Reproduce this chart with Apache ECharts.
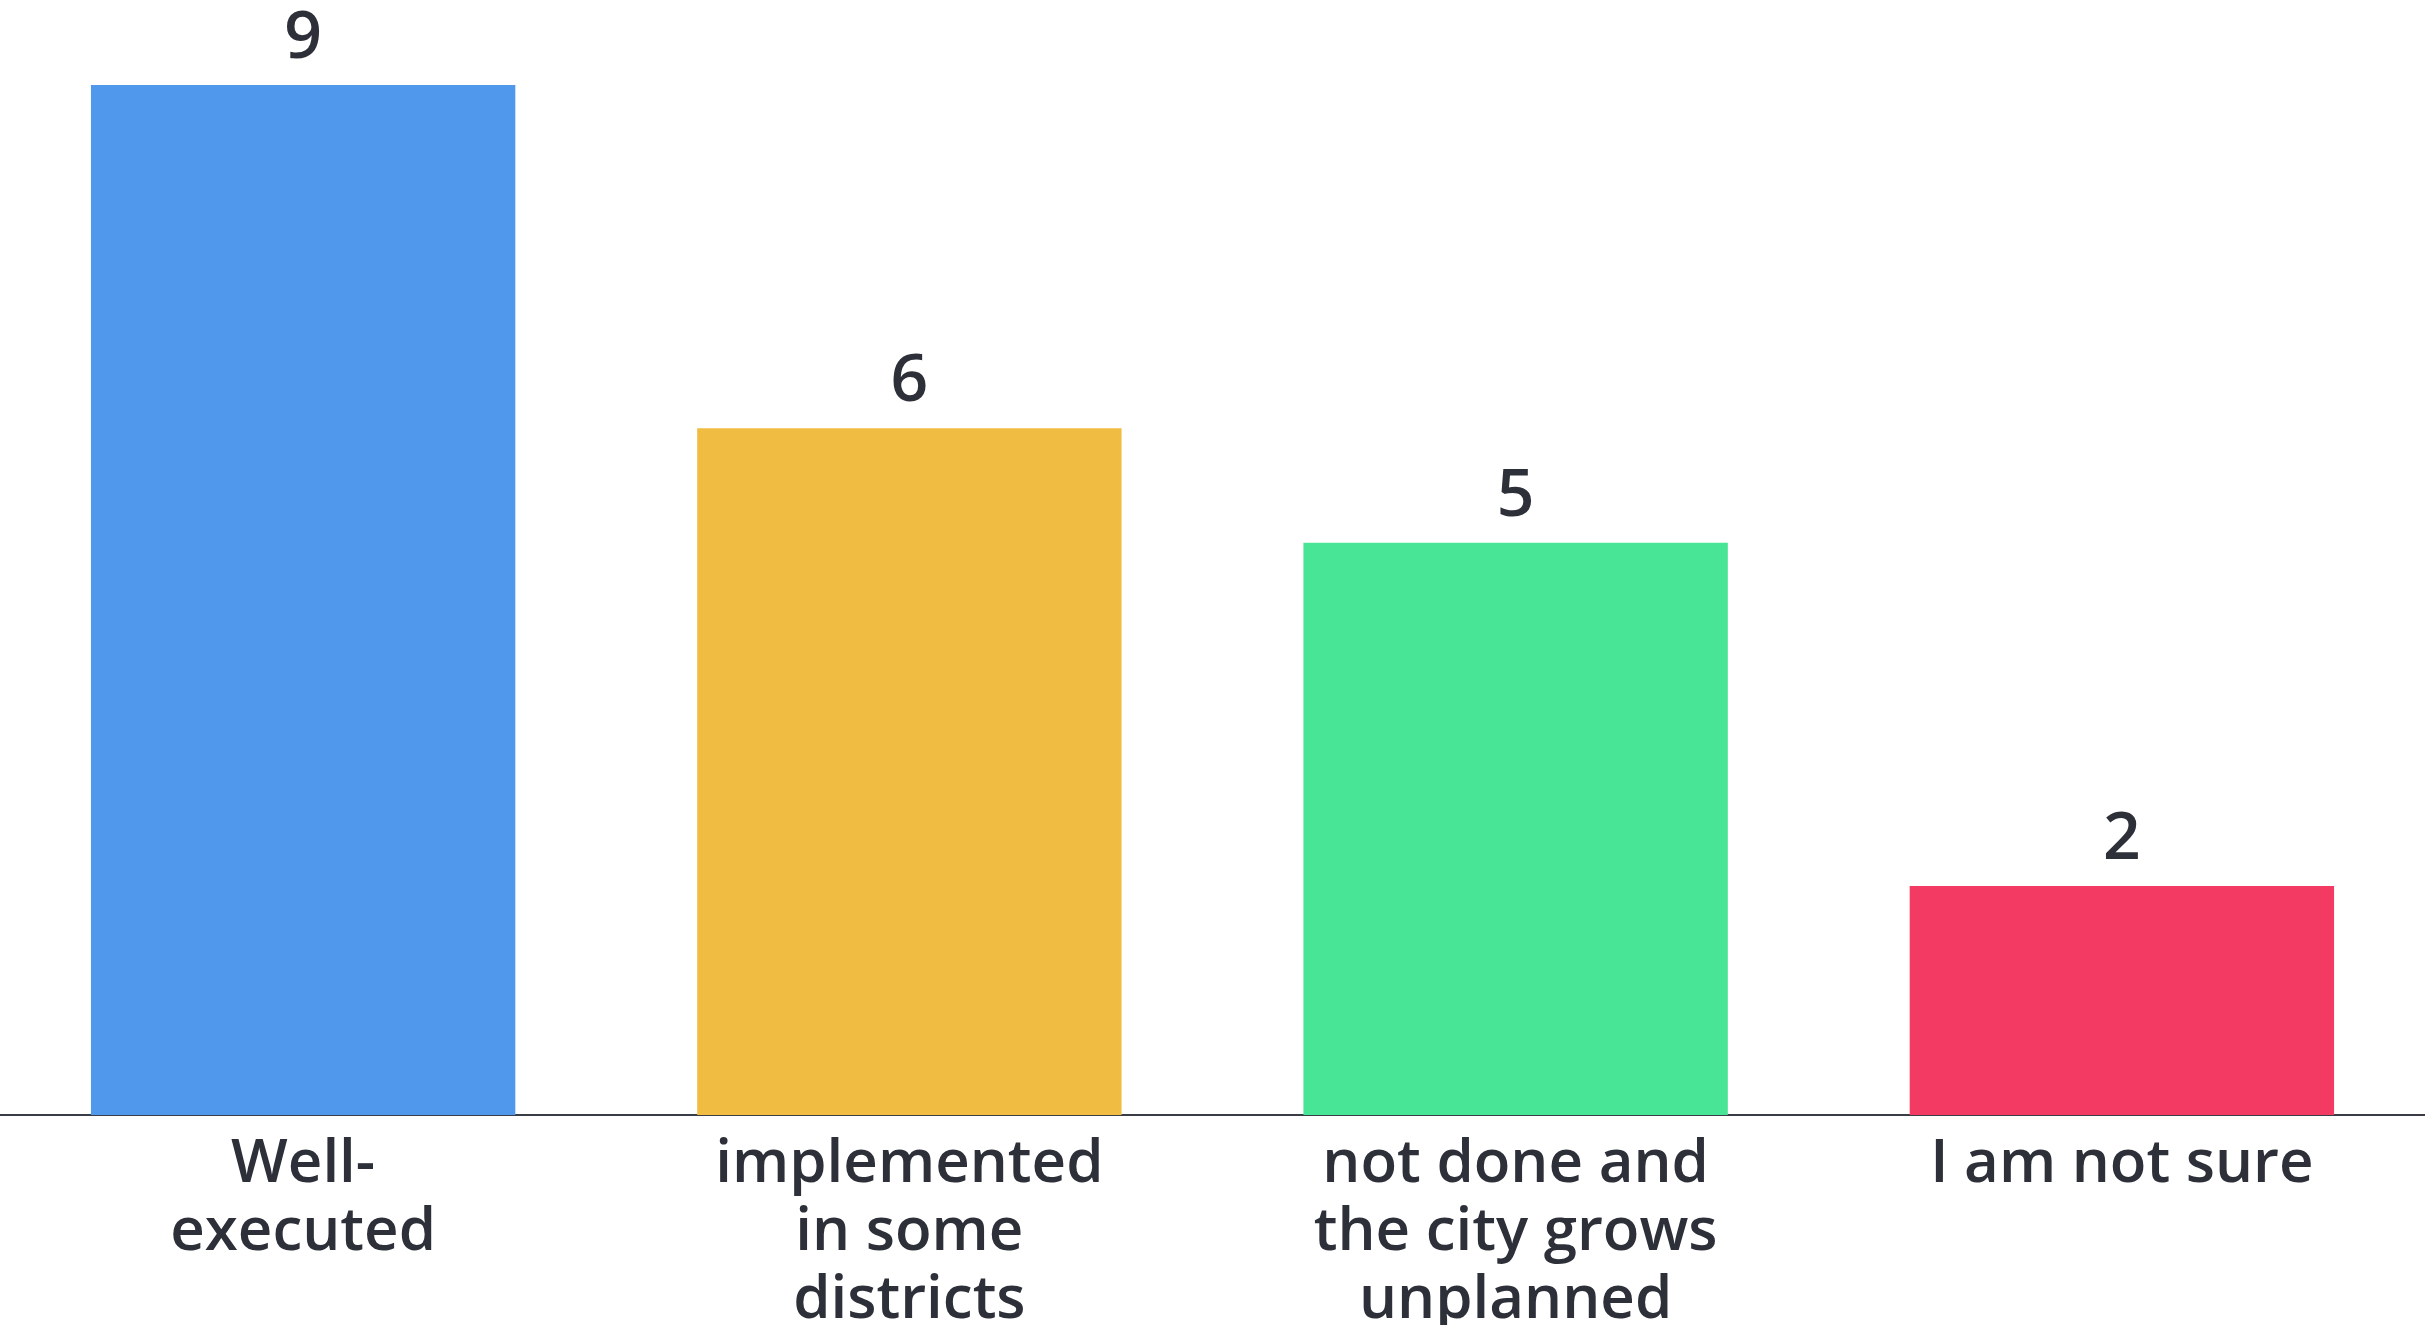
<!DOCTYPE html>
<html>
<head>
<meta charset="utf-8">
<script src="https://cdn.jsdelivr.net/npm/echarts@6/dist/echarts.min.js"></script>
<style>
html,body{margin:0;padding:0;background:#fff;}
#c{width:2425px;height:1325px;}
</style>
</head>
<body>
<div id="c"></div>
<script>
const categories = ["Well-\nexecuted", "implemented\nin some\ndistricts", "not done and\nthe city grows\nunplanned", "I am not sure"];
const values = [9, 6, 5, 2];
const colors = ["#4F98EC", "#F0BD42", "#47E595", "#F23A63"];

const chart = echarts.init(document.getElementById('c'));
chart.setOption({
  animation: false,
  backgroundColor: '#ffffff',
  grid: { left: 0, right: 0, top: 85, bottom: 210, containLabel: false, outerBoundsMode: 'none' },
  xAxis: {
    type: 'category',
    data: categories,
    axisLine: { show: true, lineStyle: { color: '#3a3d45', width: 2 } },
    axisTick: { show: false },
    axisLabel: {
      color: '#2d3038',
      fontFamily: 'Open Sans',
      fontWeight: 600,
      fontSize: 60,
      lineHeight: 68,
      margin: 16,
      interval: 0
    }
  },
  yAxis: {
    type: 'value',
    min: 0,
    max: 9,
    show: false,
    splitLine: { show: false }
  },
  series: [{
    type: 'bar',
    data: values.map((v, i) => ({ value: v, itemStyle: { color: colors[i] } })),
    barCategoryGap: '30%',
    label: {
      show: true,
      position: 'top',
      distance: 13,
      color: '#2d3038',
      fontFamily: 'Open Sans',
      fontWeight: 600,
      fontSize: 66
    }
  }]
});
</script>
</body>
</html>
